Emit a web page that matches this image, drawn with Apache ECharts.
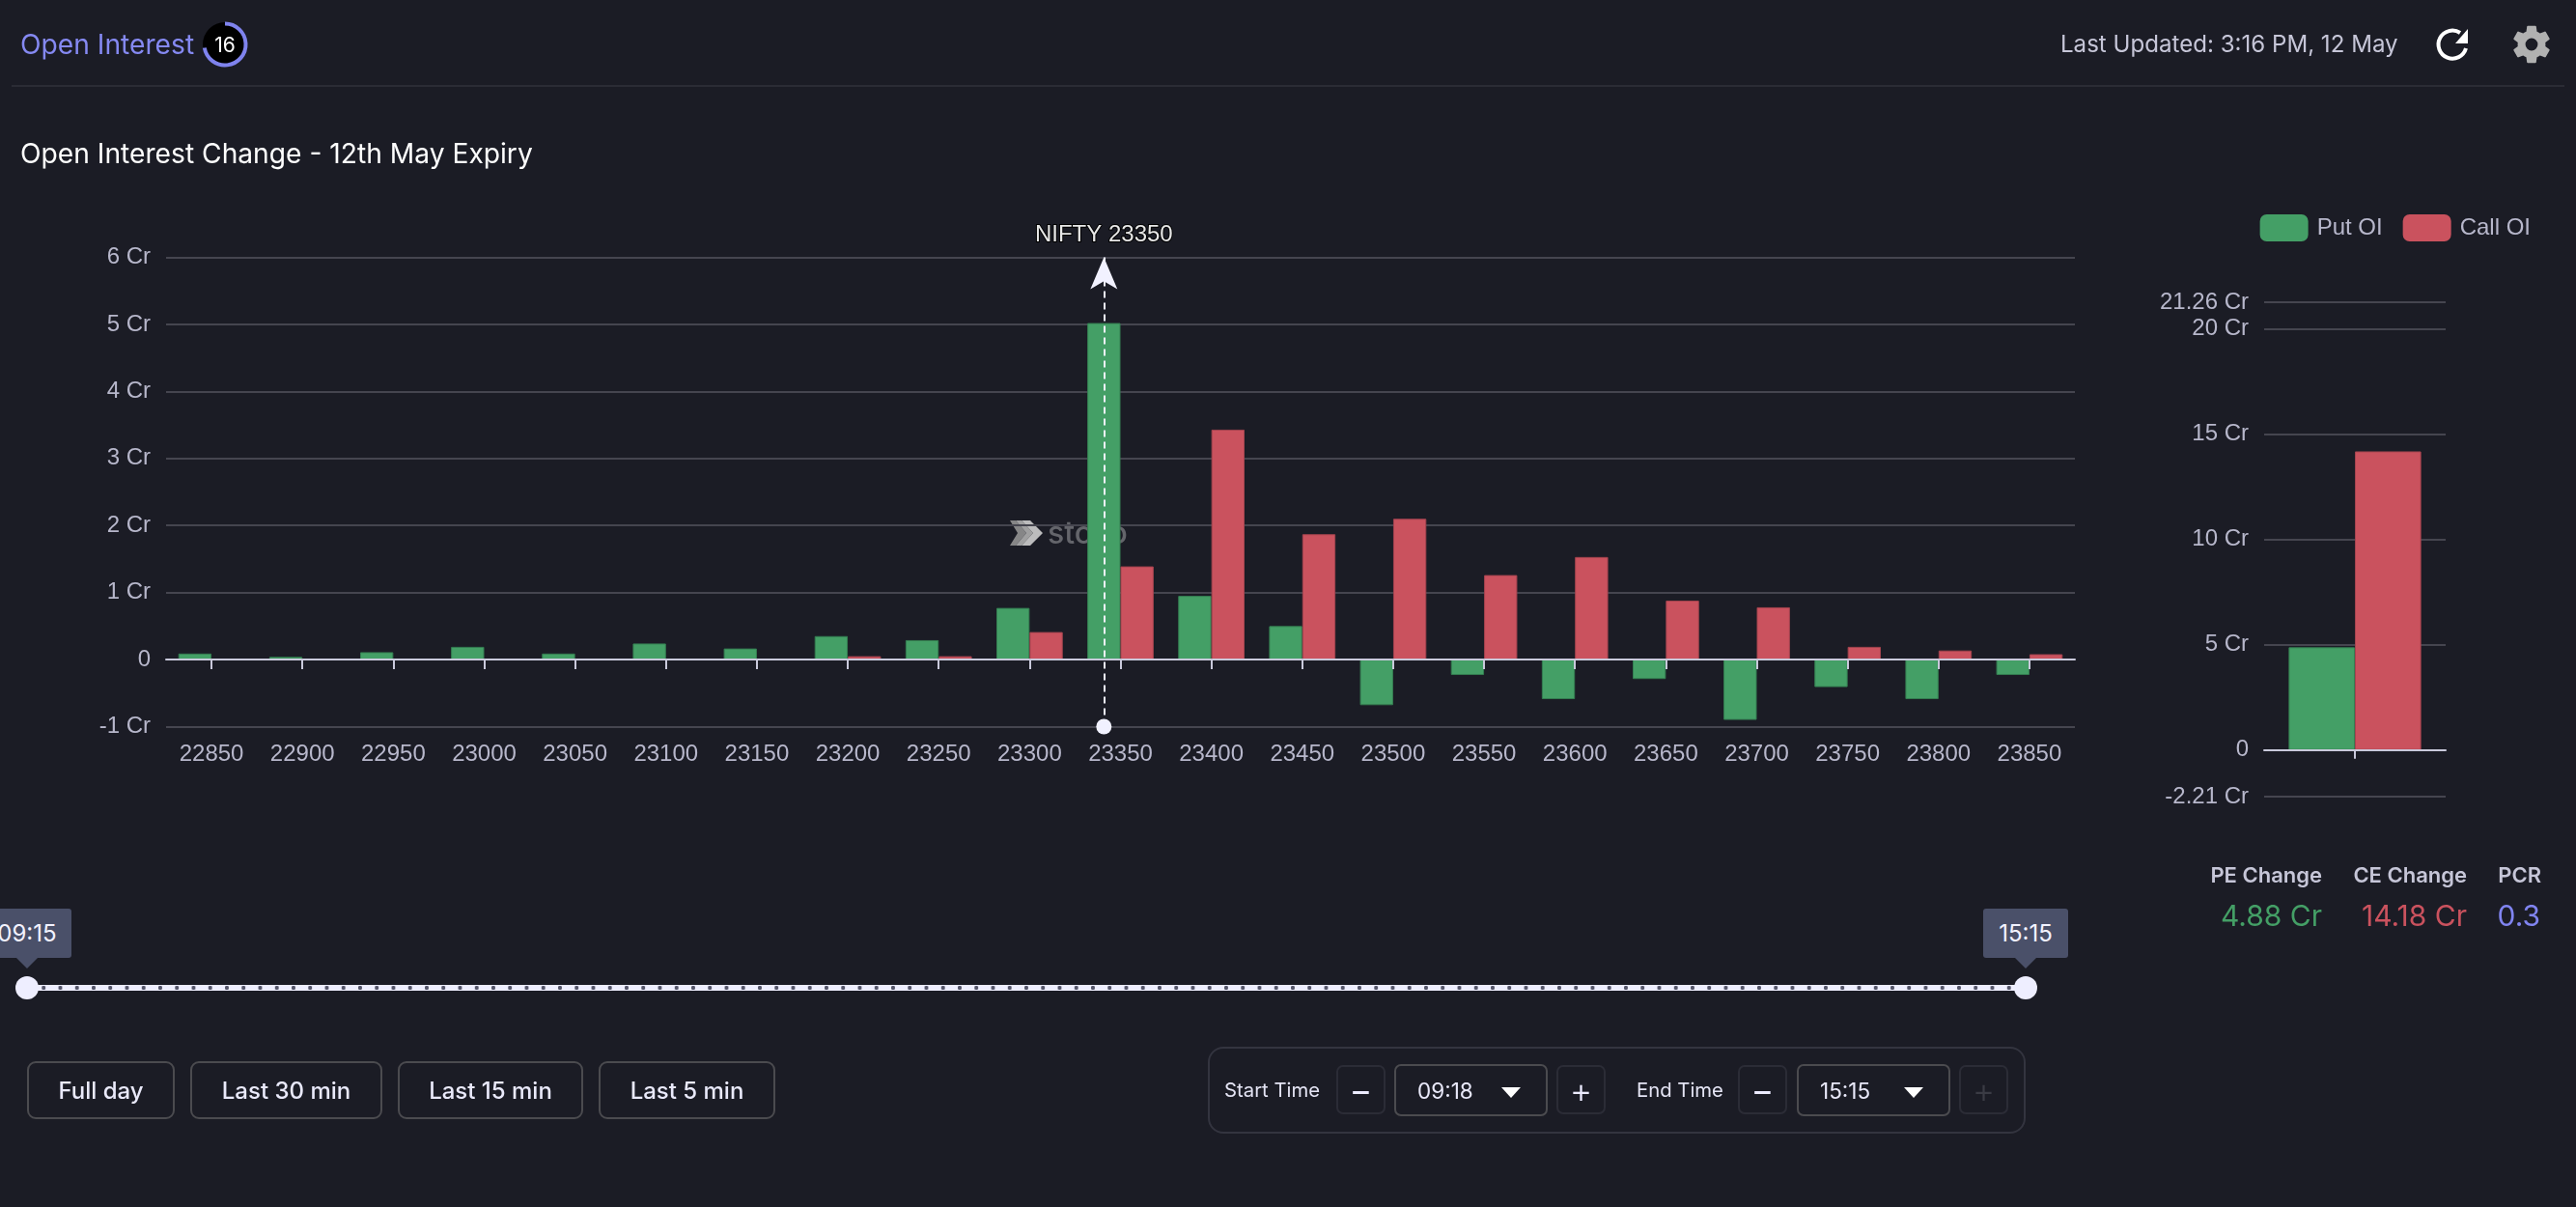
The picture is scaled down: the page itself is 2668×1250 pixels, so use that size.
<!DOCTYPE html>
<html>
<head>
<meta charset="utf-8">
<title>Open Interest</title>
<script src="https://cdn.jsdelivr.net/npm/echarts@6/dist/echarts.min.js"></script>
<style>
  html, body { margin: 0; padding: 0; width: 2668px; height: 1250px; overflow: hidden; background: #1b1c25; font-family: Inter, "Liberation Sans", sans-serif; }
  #chart { position: absolute; left: 0; top: 0; width: 2668px; height: 1250px; }
  .ui { position: absolute; white-space: nowrap; line-height: 1; }
  .mid { transform: translateY(-50%); }
  .box { position: absolute; box-sizing: border-box; }
  .btn { position: absolute; box-sizing: border-box; top: 1099px; height: 60px; border: 2px solid #4b4b4f; border-radius: 9px; color: #e9e9fa; font: 500 24px Inter; display: flex; align-items: center; justify-content: center; }
  .step { position: absolute; box-sizing: border-box; top: 1103px; width: 51px; height: 51px; border: 2px solid #2b2c36; border-radius: 7px; color: #ecebff; font: 400 36px Inter; display: flex; align-items: center; justify-content: center; }
  .plus { font-weight: 300; }
  .sel { position: absolute; box-sizing: border-box; top: 1102px; width: 159px; height: 54px; border: 2px solid #4b4b4f; border-radius: 7px; color: #e9e9fa; font: 400 22.5px Inter; }
  .sel span { position: absolute; left: 22px; top: 14px; line-height: 24px; }
  .sel i { position: absolute; left: 109px; top: 22px; width: 0; height: 0; border-left: 10px solid transparent; border-right: 10px solid transparent; border-top: 11px solid #fff; }
  .tip { position: absolute; box-sizing: border-box; top: 941px; height: 51px; background: #4a5069; border-radius: 3px; color: #f2f2ff; font: 400 24px Inter; display: flex; align-items: center; justify-content: center; }
  .tipArrow { position: absolute; top: 991px; width: 0; height: 0; border-left: 12px solid transparent; border-right: 12px solid transparent; border-top: 12px solid #4a5069; }
  .handle { position: absolute; top: 1011px; width: 24px; height: 24px; border-radius: 50%; background: #eeeeff; }
</style>
</head>
<body>
<div id="chart"></div>

<!-- header bar -->
<div class="ui mid" style="left:21px;top:46px;color:#8589f2;font-size:28.2px;">Open Interest</div>
<svg class="box" style="left:205px;top:18px;" width="56" height="56" viewBox="0 0 56 56">
  <circle cx="28" cy="28" r="23" fill="#000"/>
  <path d="M28 6.5 A21.5 21.5 0 1 1 6.8 31.5" fill="none" stroke="#7f83ee" stroke-width="4"/>
  <text x="28" y="35.5" text-anchor="middle" fill="#fff" font-family="Inter" font-size="21">16</text>
</svg>
<div class="ui mid" style="left:2134px;top:46px;color:#c6c6d8;font-size:24.1px;">Last Updated: 3:16 PM, 12 May</div>
<svg class="box" style="left:2520px;top:26px;" width="40" height="40" viewBox="0 0 40 40">
  <path d="M34 24 A14.5 14.5 0 1 1 28 8" fill="none" stroke="#fff" stroke-width="4"/>
  <path d="M36 4 V19 H23 Z" fill="#fff"/>
</svg>
<svg class="box" style="left:2598px;top:22px;" width="48" height="48" viewBox="0 0 24 24">
  <path fill="#b1b1b1" d="M19.14 12.94c.04-.3.06-.61.06-.94s-.02-.64-.07-.94l2.03-1.58a.49.49 0 0 0 .12-.61l-1.92-3.32a.49.49 0 0 0-.59-.22l-2.39.96a7 7 0 0 0-1.62-.94l-.36-2.54a.48.48 0 0 0-.48-.41h-3.84a.48.48 0 0 0-.47.41l-.36 2.54a7.3 7.3 0 0 0-1.62.94l-2.39-.96a.48.48 0 0 0-.59.22L2.74 8.87a.48.48 0 0 0 .12.61l2.03 1.58c-.05.3-.09.63-.09.94s.02.64.07.94l-2.03 1.58a.49.49 0 0 0-.12.61l1.92 3.32c.12.22.37.29.59.22l2.39-.96c.5.38 1.03.7 1.62.94l.36 2.54c.05.24.24.41.48.41h3.84c.24 0 .44-.17.47-.41l.36-2.54c.59-.24 1.13-.56 1.62-.94l2.39.96c.22.08.47 0 .59-.22l1.92-3.32a.48.48 0 0 0-.12-.61l-2.01-1.58zM12 15.2A3.2 3.2 0 1 1 12 8.8a3.2 3.2 0 0 1 0 6.4z"/>
</svg>
<div class="box" style="left:12px;top:88px;width:2644px;height:2px;background:#2b2c35;"></div>
<div class="ui mid" style="left:21px;top:159px;color:#fff;font-size:28.2px;">Open Interest Change - 12th May Expiry</div>

<!-- change summary -->
<div class="ui mid" style="right:263px;top:906px;color:#c6c6d8;font-size:22px;font-weight:600;">PE Change</div>
<div class="ui mid" style="right:113px;top:906px;color:#c6c6d8;font-size:22px;font-weight:600;">CE Change</div>
<div class="ui mid" style="right:36px;top:906px;color:#c6c6d8;font-size:22px;font-weight:600;">PCR</div>
<div class="ui mid" style="right:263px;top:948px;color:#449f66;font-size:30px;">4.88 Cr</div>
<div class="ui mid" style="right:113px;top:948px;color:#ca525e;font-size:30px;">14.18 Cr</div>
<div class="ui mid" style="right:37px;top:948px;color:#8084f0;font-size:30px;">0.3</div>

<!-- time range slider, one dot per three minute step -->
<div class="box" style="left:28px;top:1020px;width:2070px;height:6px;background-color:#eeeeff;background-image:radial-gradient(circle at 50% 50%,#55566a 0,#55566a 1.9px,transparent 2.4px);background-size:17.25px 6px;background-position:8.6px 0;"></div>
<div class="handle" style="left:16px;"></div>
<div class="handle" style="left:2086px;"></div>
<div class="tip" style="left:-18px;width:92px;">09:15</div>
<div class="tipArrow" style="left:16px;"></div>
<div class="tip" style="left:2054px;width:88px;">15:15</div>
<div class="tipArrow" style="left:2086px;"></div>

<!-- quick range buttons -->
<div class="btn" style="left:28px;width:153px;">Full day</div>
<div class="btn" style="left:197px;width:199px;">Last 30 min</div>
<div class="btn" style="left:412px;width:192px;">Last 15 min</div>
<div class="btn" style="left:620px;width:183px;">Last 5 min</div>

<!-- start and end time pickers -->
<div class="box" style="left:1251px;top:1084px;width:847px;height:90px;border:2px solid #33343f;border-radius:16px;"></div>
<div class="ui mid" style="left:1268px;top:1129px;color:#e4e4f4;font-size:20.3px;">Start Time</div>
<div class="step" style="left:1384px;">&#8722;</div>
<div class="sel" style="left:1444px;"><span>09:18</span><i></i></div>
<div class="step plus" style="left:1612px;">+</div>
<div class="ui mid" style="left:1695px;top:1129px;color:#e4e4f4;font-size:20.3px;">End Time</div>
<div class="step" style="left:1800px;">&#8722;</div>
<div class="sel" style="left:1861px;"><span>15:15</span><i></i></div>
<div class="step plus" style="left:2029px;color:#3a3b44;">+</div>

<script>
// Strikes and per-strike OI change, in crore
const strikes = ['22850','22900','22950','23000','23050','23100','23150','23200','23250','23300','23350','23400','23450','23500','23550','23600','23650','23700','23750','23800','23850'];
const putOI  = [0.09,0.04,0.11,0.19,0.09,0.24,0.165,0.35,0.29,0.77,5.02,0.95,0.50,-0.68,-0.23,-0.59,-0.29,-0.90,-0.41,-0.59,-0.23];
const callOI = [0.003,0.003,0.003,0.015,0.005,0.015,0.01,0.05,0.05,0.41,1.39,3.43,1.87,2.10,1.26,1.53,0.88,0.78,0.19,0.135,0.08];
// Totals shown in the side panel
const totalPut = [4.88];
const totalCall = [14.18];
const spotStrike = '23350';
const spotLabel = 'NIFTY 23350';

const GREEN = '#449f66', RED = '#ca525e';
const GREEN_EDGE = '#357f52', RED_EDGE = '#a5444f';
const TEXT = '#b7b7cb', GRID = '#45454f', AXIS = '#c9c9db';
const FONT = '"Liberation Sans", Arial, sans-serif';
const crLabel = v => (v === 0 ? '0' : v + ' Cr');

const labelStyle = { color: TEXT, fontFamily: FONT, fontSize: 24 };
const splitLine = { show: true, lineStyle: { color: GRID, width: 2 } };
const axisLine = { show: true, onZero: true, lineStyle: { color: AXIS, width: 2 } };
const axisTick = { show: true, alignWithLabel: true, length: 10, lineStyle: { color: AXIS, width: 2 } };
const putStyle = { color: GREEN, borderColor: GREEN_EDGE, borderWidth: 1 };
const callStyle = { color: RED, borderColor: RED_EDGE, borderWidth: 1 };

const chart = echarts.init(document.getElementById('chart'), null, { renderer: 'canvas' });
chart.setOption({
  backgroundColor: 'transparent',
  animation: false,
  legend: {
    data: ['Put OI', 'Call OI'],
    right: 47, top: 222, padding: 0,
    itemWidth: 50, itemHeight: 28, itemGap: 21,
    itemStyle: { borderWidth: 0 },
    textStyle: Object.assign({}, labelStyle, { padding: [0, 0, 0, 4] })
  },
  grid: [
    { left: 172, top: 266.5, width: 1977, height: 486 },
    { left: 2345, top: 313, width: 188, height: 512 }
  ],
  xAxis: [
    // zero line and ticks, kept above the bars
    { type: 'category', gridIndex: 0, z: 3, data: strikes, axisLine, axisTick, axisLabel: { show: false }, splitLine: { show: false } },
    // strike labels along the bottom of the plot
    { type: 'category', gridIndex: 0, position: 'bottom', data: strikes, axisLine: { show: false, onZero: false }, axisTick: { show: false }, axisLabel: Object.assign({}, labelStyle, { margin: 17, interval: 0 }), splitLine: { show: false } },
    { type: 'category', gridIndex: 1, z: 3, data: [''], axisLine, axisTick: Object.assign({}, axisTick, { length: 9 }), axisLabel: { show: false }, splitLine: { show: false } }
  ],
  yAxis: [
    { type: 'value', gridIndex: 0, min: -1, max: 6, interval: 1, axisLine: { show: false }, axisTick: { show: false }, splitLine, axisLabel: Object.assign({}, labelStyle, { margin: 16, padding: [3, 0, 0, 0], formatter: crLabel }) },
    { type: 'value', gridIndex: 1, min: -2.21, max: 21.26, axisLine: { show: false }, axisTick: { show: false }, splitLine, axisLabel: Object.assign({}, labelStyle, { margin: 16, padding: [5, 0, 0, 0], formatter: crLabel }) }
  ],
  graphic: [
    {
      // brand mark sitting behind the bars
      type: 'group', x: 1046, y: 539, z: -1, silent: true,
      children: [
        { type: 'polygon', shape: { points: [[0,0],[6,0],[17,13],[6,26],[0,26],[8,13]] }, style: { fill: '#868687' } },
        { type: 'polygon', shape: { points: [[6,0],[12,0],[24,13],[12,26],[6,26],[17,13]] }, style: { fill: '#a0a0a1' } },
        { type: 'polygon', shape: { points: [[12,0],[21,0],[34,13],[21,26],[12,26],[24,13]] }, style: { fill: '#bcbcbd' } },
        { type: 'text', x: 39, y: 14.5, style: { text: 'stoxo', fill: '#64656b', font: '500 32px Inter', verticalAlign: 'middle' } }
      ]
    }
  ],
  series: [
    {
      name: 'Put OI', type: 'bar', xAxisIndex: 0, yAxisIndex: 0, data: putOI,
      barGap: 0, barCategoryGap: '27%',
      itemStyle: putStyle,
      markLine: {
        silent: true, animation: false,
        lineStyle: { color: '#f1f1ff', type: [7, 5], width: 2 },
        data: [[
          { xAxis: spotStrike, yAxis: -1, symbol: 'circle', symbolSize: 16 },
          { xAxis: spotStrike, yAxis: 6, symbol: 'arrow', symbolSize: [21, 33],
            label: { show: true, position: 'end', distance: 11, formatter: spotLabel, color: '#e8e8e8', fontFamily: FONT, fontSize: 24, textBorderColor: '#000', textBorderWidth: 2 } }
        ]]
      }
    },
    {
      name: 'Call OI', type: 'bar', xAxisIndex: 0, yAxisIndex: 0, data: callOI,
      itemStyle: callStyle
    },
    {
      name: 'Put OI', type: 'bar', xAxisIndex: 2, yAxisIndex: 1, data: totalPut,
      barGap: 0, barCategoryGap: '27%',
      itemStyle: putStyle
    },
    {
      name: 'Call OI', type: 'bar', xAxisIndex: 2, yAxisIndex: 1, data: totalCall,
      itemStyle: callStyle
    }
  ]
});
</script>
</body>
</html>
